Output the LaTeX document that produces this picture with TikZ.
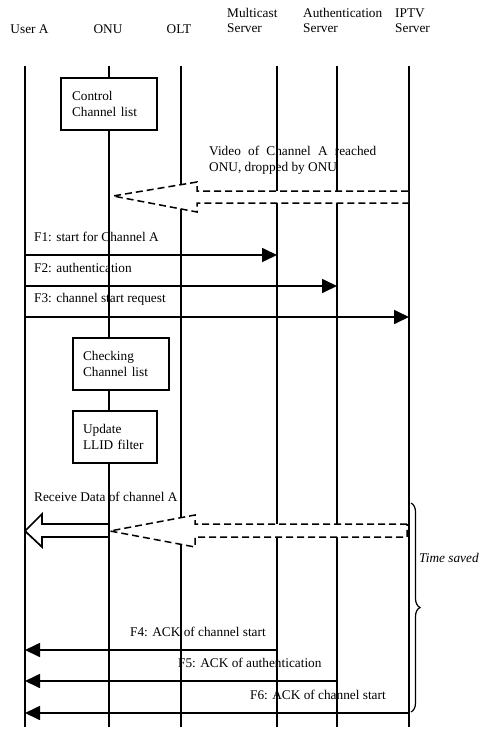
\documentclass[tikz,border=0pt]{standalone}
\usepackage{fontspec}
\setmainfont{Liberation Serif}
\usetikzlibrary{positioning,arrows.meta,decorations.pathreplacing}

\begin{document}
\begin{tikzpicture}[x=1pt,y=-1pt,>={Triangle[length=15pt,width=14pt]},
		every node/.style={font=\fontsize{13.3}{15.5}\selectfont},
		life/.style={line width=1.7pt},
		msg/.style={->,line width=1.7pt},
		hdr/.style={inner sep=0pt,align=left},
		lbl/.style={inner sep=0pt,anchor=west},
		procbox/.style={draw,fill=white,line width=1.7pt,align=left,
			minimum height=52pt,inner xsep=10pt,inner ysep=0pt},
		fat/.style={line width=1.5pt,dash pattern=on 7pt off 4pt,fill=white}]
	\useasboundingbox (0,0) rectangle (480,730);
	
	\node[hdr] (h-usr) at (29.5,29) {User A};
	\node[hdr] (h-onu) at (108,29) {ONU};
	\node[hdr] (h-olt) at (179,29) {OLT};
	\node[hdr,anchor=west] (h-mcs) at (227,20.5) {Multicast\\Server};
	\node[hdr,anchor=west] (h-aus) at (303,20.5) {Authentication\\Server};
	\node[hdr,anchor=west] (h-iptv) at (395,20.5) {IPTV\\Server};
	
	\foreach \n/\x/\w in {usr/25/1.7,onu/109/1.3,olt/181/1.7,mcs/277/1.7,aus/337/1.7,iptv/409/1.7}{
		\coordinate (\n) at (\x,66);
		\coordinate (\n-end) at (\x,727);
		\draw[line width=\w pt] (\n) -- (\n-end);
	}
	
	\node[procbox,minimum width=96pt,text width=74pt,inner xsep=11pt] (ctrl) at (109,104) {Control\\Channel list};
	
	\draw[fat] (408,191) -- (197,191) -- (197,182) -- (113,196) -- (197,212) -- (197,203) -- (408,203);
	\node[lbl,align=justify,text width=167pt] (video) at (209,160.5) {Video of Channel A reached ONU, dropped by ONU};
	
	\foreach \f/\y/\to/\t in {f1/255/mcs/F1: start for Channel A,f2/286/aus/F2: authentication,f3/317/iptv/F3: channel start request}{
		\coordinate (\f) at (0,\y);
		\node[lbl] (\f-lbl) at (34,\y-18) {\t};
		\draw[msg] (usr |- \f) -- (\to |- \f);
	}
	
	\node[procbox,minimum width=96pt,text width=76pt] (check) at (121,364) {Checking\\Channel list};
	\node[procbox,minimum width=84pt,text width=64pt] (llid) at (115,437) {Update\\LLID filter};
	
	\node[lbl] (recv) at (34,497) {Receive Data of channel A};
	\draw[fat] (407,524) -- (195,524) -- (195,515) -- (110,531) -- (195,547) -- (195,537) -- (407,537) -- cycle;
	\draw[line width=1.7pt,fill=white] (109,524) -- (42,524) -- (42,514) -- (25,531) -- (42,547) -- (42,537) -- (109,537) -- cycle;
	
	\coordinate (saved-t) at (411,503);
	\coordinate (saved-b) at (411,712);
	\draw[decorate,decoration={brace,amplitude=9pt},line width=1.2pt] (saved-t) -- (saved-b);
	\node[lbl,font=\fontsize{13.3}{15.5}\selectfont\itshape] (saved) at (419,558) {Time saved};
	
	\foreach \f/\y/\from/\lx/\t in {f4/650/mcs/130/F4: ACK of channel start,f5/681/aus/178/F5: ACK of authentication,f6/713/iptv/250/F6: ACK of channel start}{
		\coordinate (\f) at (0,\y);
		\node[lbl] (\f-lbl) at (\lx,\y-18) {\t};
		\draw[msg] (\from |- \f) -- (usr |- \f);
	}
\end{tikzpicture}
\end{document}
